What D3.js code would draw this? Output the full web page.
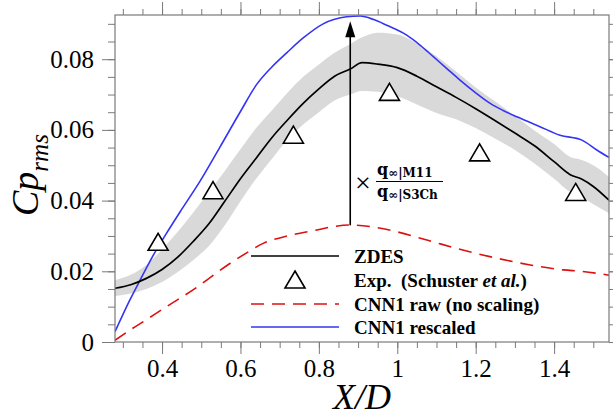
<!DOCTYPE html>
<html><head><meta charset="utf-8">
<script src="https://cdn.jsdelivr.net/npm/d3@7"></script>
<style>
body{margin:0;background:#fff;}
svg{display:block;font-family:"Liberation Serif","Times New Roman",serif;}
</style></head>
<body>
<svg id="c" width="613" height="417"></svg>
<script>
// ---- data ----
const zdesX = [0.28,0.32,0.36,0.40,0.44,0.48,0.52,0.56,0.60,0.64,0.68,0.72,0.76,0.80,0.84,0.88,0.91,0.95,1.00,1.05,1.10,1.15,1.20,1.25,1.30,1.35,1.40,1.44,1.47,1.50,1.54];
const zdesY = [.0152,.0162,.0180,.0205,.0240,.0285,.0335,.0398,.0462,.0520,.0578,.0628,.0675,.0716,.0752,.0772,.0790,.0786,.0776,.0752,.0722,.0692,.0660,.0626,.0591,.0555,.0510,.0474,.0461,.0440,.0401];
const bandHi = [.0175,.0190,.0218,.0262,.0312,.0367,.0425,.0484,.0545,.0605,.0655,.0705,.0750,.0785,.0818,.0843,.0862,.0875,.0870,.0845,.0808,.0765,.0720,.0680,.0640,.0598,.0560,.0524,.0515,.0500,.0467];
const bandLo = [.0130,.0137,.0150,.0170,.0198,.0232,.0272,.0330,.0398,.0462,.0518,.0572,.0615,.0650,.0683,.0700,.0710,.0708,.0695,.0672,.0648,.0630,.0605,.0575,.0543,.0505,.0462,.0425,.0410,.0390,.0364];

const blueX = [0.28,0.318,0.344,0.38,0.41,0.45,0.497,0.548,0.60,0.641,0.68,0.718,0.76,0.811,0.871,0.905,0.94,0.973,1.024,1.058,1.092,1.125,1.16,1.20,1.237,1.27,1.305,1.364,1.415,1.471,1.509,1.54];
const blueY = [.0029,.0119,.0175,.0250,.0305,.0375,.0455,.0552,.0652,.0728,.0778,.0818,.0860,.0900,.0920,.0922,.0912,.0896,.0868,.0840,.0807,.0775,.0741,.0705,.0675,.0655,.0637,.0609,.0585,.0571,.0543,.0522];

const redX = [0.28,0.32,0.36,0.40,0.44,0.48,0.52,0.573,0.62,0.658,0.72,0.795,0.84,0.88,0.94,0.998,1.08,1.167,1.25,1.339,1.424,1.47,1.54];
const redY = [.0005,.0035,.0063,.0092,.0120,.0148,.0180,.0222,.0255,.0279,.0300,.0317,.0327,.0331,.0325,.0312,.0287,.0260,.0238,.0218,.0204,.0200,.0189];

const expX = [0.39,0.53,0.735,0.98,1.21,1.455];
const expY = [0.0282,0.0428,0.0585,0.0706,0.0535,0.0423];

const xTicks = [0.4,0.6,0.8,1.0,1.2,1.4];
const xTickLabels = ["0.4","0.6","0.8","1","1.2","1.4"];
const yTicks = [0,0.02,0.04,0.06,0.08];
const yTickLabels = ["0","0.02","0.04","0.06","0.08"];
const legendLabels = ["ZDES","Exp.","CNN1 raw (no scaling)","CNN1 rescaled"];
const arrowX = 0.88, arrowFrom = 0.033, arrowTo = 0.0907;

// ---- layout ----
const L=115, R=609, T=15, B=342;
const x = d3.scaleLinear().domain([0.28,1.54]).range([L,R]);
const y = d3.scaleLinear().domain([0,0.0925]).range([B,T]);
const svg = d3.select("#c");
const gray = "#7a7a7a";

const minorX = d3.range(0.30,1.5401,0.05).map(v=>+v.toFixed(2));
const minorY = d3.range(0,0.0926,0.005).map(v=>+v.toFixed(3));

svg.append("defs").append("clipPath").attr("id","clip")
  .append("rect").attr("x",L).attr("y",T).attr("width",R-L).attr("height",B-T);

const plot = svg.append("g").attr("clip-path","url(#clip)");

// band
plot.append("path").datum(zdesX.map((v,i)=>[v,bandLo[i],bandHi[i]]))
  .attr("fill","#d9d9d9")
  .attr("d", d3.area().x(d=>x(d[0])).y0(d=>y(d[1])).y1(d=>y(d[2])).curve(d3.curveMonotoneX));

const line = d3.line().x(d=>x(d[0])).y(d=>y(d[1])).curve(d3.curveMonotoneX);

plot.append("path").datum(redX.map((v,i)=>[v,redY[i]]))
  .attr("fill","none").attr("stroke","#dd1010").attr("stroke-width",1.6)
  .attr("stroke-dasharray","13,8").attr("d",line);
plot.append("path").datum(blueX.map((v,i)=>[v,blueY[i]]))
  .attr("fill","none").attr("stroke","#3434f4").attr("stroke-width",1.6).attr("d",line);
plot.append("path").datum(zdesX.map((v,i)=>[v,zdesY[i]]))
  .attr("fill","none").attr("stroke","#000").attr("stroke-width",1.7).attr("d",line);

// arrow
plot.append("line").attr("x1",x(arrowX)).attr("x2",x(arrowX))
  .attr("y1",y(arrowFrom)).attr("y2",y(arrowTo)+14)
  .attr("stroke","#000").attr("stroke-width",1.6);
plot.append("path")
  .attr("d",`M${x(arrowX)},${y(arrowTo)} L${x(arrowX)-5},${y(arrowTo)+16} L${x(arrowX)+5},${y(arrowTo)+16} Z`)
  .attr("fill","#000");

// triangles
const tri = (cx,cy)=>`M${cx},${cy-9} L${cx+10},${cy+8} L${cx-10},${cy+8} Z`;
plot.selectAll(".exp").data(expX.map((v,i)=>[v,expY[i]])).join("path")
  .attr("d",d=>tri(x(d[0]),y(d[1])))
  .attr("fill","#fff").attr("stroke","#000").attr("stroke-width",1.6);

// annotation
const ann = svg.append("g").attr("fill","#000");
ann.append("text").attr("x",363).attr("y",192).attr("text-anchor","middle")
  .attr("font-size",28).attr("font-family","'Liberation Serif',serif").text("×");
const fr = ann.append("g").attr("font-family","'DejaVu Serif','Liberation Serif',serif").attr("font-weight","bold");
const num = fr.append("text").attr("x",377).attr("y",175).attr("font-size",16);
num.append("tspan").text("q");
num.append("tspan").attr("font-size",12).attr("dy",2).text("∞|M11");
fr.append("line").attr("x1",376).attr("x2",443).attr("y1",181.5).attr("y2",181.5)
  .attr("stroke","#000").attr("stroke-width",1.1);
const den = fr.append("text").attr("x",377).attr("y",197).attr("font-size",16);
den.append("tspan").text("q");
den.append("tspan").attr("font-size",12).attr("dy",2).text("∞|S3Ch");

// axes
function styleAxis(g){
  g.selectAll("path.domain").remove();
  g.selectAll("line").attr("stroke",gray).attr("stroke-width",1);
  g.selectAll("text").attr("fill","#000").attr("font-size",25)
   .attr("font-family","'Liberation Serif','Times New Roman',serif");
}
// bottom
svg.append("g").attr("transform",`translate(0,${B})`)
  .call(d3.axisBottom(x).tickValues(minorX).tickSize(6).tickFormat("")).call(styleAxis);
svg.append("g").attr("transform",`translate(0,${B})`)
  .call(d3.axisBottom(x).tickValues(xTicks).tickSize(12).tickPadding(5).tickFormat((d,i)=>xTickLabels[i])).call(styleAxis);
// top
svg.append("g").attr("transform",`translate(0,${T})`)
  .call(d3.axisTop(x).tickValues(minorX).tickSize(6).tickFormat("")).call(styleAxis);
svg.append("g").attr("transform",`translate(0,${T})`)
  .call(d3.axisTop(x).tickValues(xTicks).tickSize(13).tickFormat("")).call(styleAxis);
// left
svg.append("g").attr("transform",`translate(${L},0)`)
  .call(d3.axisLeft(y).tickValues(minorY).tickSize(7).tickFormat("")).call(styleAxis);
svg.append("g").attr("transform",`translate(${L},0)`)
  .call(d3.axisLeft(y).tickValues(yTicks).tickSize(13).tickPadding(8).tickFormat((d,i)=>yTickLabels[i])).call(styleAxis);
// right
svg.append("g").attr("transform",`translate(${R},0)`)
  .call(d3.axisRight(y).tickValues(minorY).tickSize(7).tickFormat("")).call(styleAxis);
svg.append("g").attr("transform",`translate(${R},0)`)
  .call(d3.axisRight(y).tickValues(yTicks).tickSize(13).tickFormat("")).call(styleAxis);
// frame
svg.append("rect").attr("x",L).attr("y",T).attr("width",R-L).attr("height",B-T)
  .attr("fill","none").attr("stroke",gray).attr("stroke-width",1.2);

// axis titles
svg.append("text").attr("x",362).attr("y",409).attr("text-anchor","middle")
  .attr("font-size",36).attr("font-style","italic").text("X/D");
const yt = svg.append("text").attr("transform","translate(38,216) rotate(-90)")
  .attr("font-size",38).attr("font-style","italic");
yt.append("tspan").text("Cp");
yt.append("tspan").attr("font-size",25).attr("dy",10).text("rms");

// legend
const lg = svg.append("g").attr("font-size",19).attr("font-weight","bold");
const lx1=251, lx2=339, ltx=354, ly=[256,280,304,327];
lg.append("line").attr("x1",lx1).attr("x2",lx2).attr("y1",ly[0]).attr("y2",ly[0]).attr("stroke","#000").attr("stroke-width",1.7);
lg.append("path").attr("d",tri((lx1+lx2)/2,ly[1])).attr("fill","#fff").attr("stroke","#000").attr("stroke-width",1.6);
lg.append("line").attr("x1",lx1).attr("x2",lx2).attr("y1",ly[2]).attr("y2",ly[2]).attr("stroke","#dd1010").attr("stroke-width",1.6).attr("stroke-dasharray","13,8");
lg.append("line").attr("x1",lx1).attr("x2",lx2).attr("y1",ly[3]).attr("y2",ly[3]).attr("stroke","#3434f4").attr("stroke-width",1.6);
lg.append("text").attr("x",ltx).attr("y",ly[0]+6.5).text(legendLabels[0]);
const e = lg.append("text").attr("x",ltx).attr("y",ly[1]+6.5).attr("xml:space","preserve");
e.append("tspan").text(legendLabels[1]+"  (Schuster ");
e.append("tspan").attr("font-style","italic").text("et al.");
e.append("tspan").text(")");
lg.append("text").attr("x",ltx).attr("y",ly[2]+6.5).text(legendLabels[2]);
lg.append("text").attr("x",ltx).attr("y",ly[3]+6.5).text(legendLabels[3]);
</script>
</body></html>
